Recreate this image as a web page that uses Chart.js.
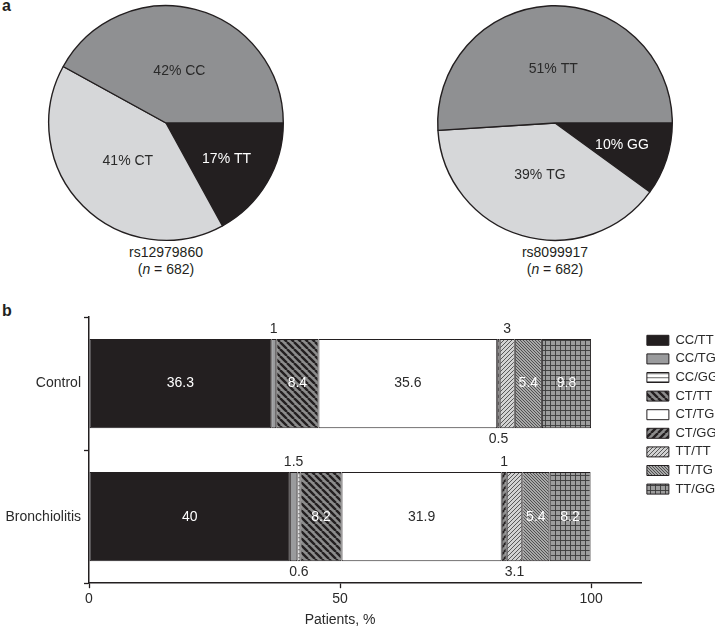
<!DOCTYPE html>
<html>
<head>
<meta charset="utf-8">
<script src="https://cdn.jsdelivr.net/npm/chart.js@4"></script>
<style>
  html, body { margin: 0; padding: 0; background: #fff; }
  body { width: 715px; height: 629px; position: relative; overflow: hidden; font-family: "Liberation Sans", Arial, sans-serif; color: #231f20; }
  .abs { position: absolute; }
  .panel { font-weight: bold; font-size: 16px; }
  .cap { font-size: 14px; text-align: center; width: 200px; line-height: 17px; }
</style>
</head>
<body>
<div class="abs panel" style="left:2px; top:-3px;">a</div>
<div class="abs panel" style="left:2px; top:302px;">b</div>
<div class="abs" style="left:46px; top:3px; width:240px; height:240px;"><canvas id="pie1" width="240" height="240"></canvas></div>
<div class="abs" style="left:435px; top:3px; width:240px; height:240px;"><canvas id="pie2" width="240" height="240"></canvas></div>
<div class="abs cap" style="left:66px; top:244px;">rs12979860<br>(<i>n</i> = 682)</div>
<div class="abs cap" style="left:455px; top:244px;">rs8099917<br>(<i>n</i> = 682)</div>
<div class="abs" style="left:0; top:300px; width:730px; height:329px;"><canvas id="bar" width="730" height="329"></canvas></div>
<script>
// ---------- data ----------
const pie1Labels = ['TT', 'CT', 'CC'];
const pie1Values = [17, 41, 42];
const pie1Name = 'rs12979860';
const pie2Labels = ['GG', 'TG', 'TT'];
const pie2Values = [10, 39, 51];
const pie2Name = 'rs8099917';

const groups = ['Control', 'Bronchiolitis'];
const genotypes = ['CC/TT', 'CC/TG', 'CC/GG', 'CT/TT', 'CT/TG', 'CT/GG', 'TT/TT', 'TT/TG', 'TT/GG'];
const ccTT = [36.3, 40];
const ccTG = [1, 1.5];
const ccGG = [0, 0.6];
const ctTT = [8.4, 8.2];
const ctTG = [35.6, 31.9];
const ctGG = [0.5, 1];
const ttTT = [3, 3.1];
const ttTG = [5.4, 5.4];
const ttGG = [9.8, 8.2];
const xTicks = [0, 50, 100];
const xTitle = 'Patients, %';

// where small values are written (outside the bar)
const smallLabelSide = {
  'CC/TG': ['above', 'above'],
  'CC/GG': ['below', 'below'],
  'CT/GG': ['below', 'above'],
  'TT/TT': ['above', 'below']
};

// ---------- styles ----------
const INK = '#231f20';
const MID = '#8f9092';
const LIGHT = '#d6d7d9';
const FONT = '"Liberation Sans", Arial, sans-serif';

const barCtx = document.getElementById('bar').getContext('2d');
function tile(w, h, bg, draw) {
  const c = document.createElement('canvas');
  c.width = w; c.height = h;
  const g = c.getContext('2d');
  g.fillStyle = bg; g.fillRect(0, 0, w, h);
  if (draw) draw(g, w, h);
  return barCtx.createPattern(c, 'repeat');
}
function diag(dir, color, lw) {
  return function (g, s) {
    g.strokeStyle = color; g.lineWidth = lw; g.beginPath();
    for (let k = -1; k <= 1; k++) {
      if (dir === '\\') { g.moveTo(k * s, 0); g.lineTo(k * s + s, s); }
      else { g.moveTo(k * s, s); g.lineTo(k * s + s, 0); }
    }
    g.stroke();
  };
}
const fills = {
  'CC/TT': INK,
  'CC/TG': '#9a9b9d',
  'CC/GG': tile(4, 4, '#ffffff', (g) => { g.fillStyle = '#8a8a8a'; g.fillRect(0, 1, 4, 1.3); }),
  'CT/TT': tile(7, 7, '#8c8c8c', diag('\\', INK, 2.4)),
  'CT/TG': '#ffffff',
  'CT/GG': tile(7, 7, '#8c8c8c', diag('/', INK, 2.4)),
  'TT/TT': tile(4, 4, '#d2d2d2', diag('/', '#4a4a4a', 0.9)),
  'TT/TG': tile(3, 3, '#a8a8a8', diag('\\', '#3a3a3a', 0.8)),
  'TT/GG': tile(5, 5, '#9d9d9d', (g) => { g.fillStyle = '#3a3a3a'; g.fillRect(0, 0, 5, 0.9); g.fillRect(0, 0, 0.9, 5); })
};
const darkText = { 'CT/TG': true };

// ---------- pies ----------
const pieLabelPlugin = {
  id: 'pieLabels',
  afterDatasetsDraw(chart) {
    const ctx = chart.ctx;
    const ds = chart.data.datasets[0];
    const meta = chart.getDatasetMeta(0);
    ctx.save();
    ctx.font = '14px ' + FONT;
    ctx.textAlign = 'center';
    ctx.textBaseline = 'middle';
    meta.data.forEach((arc, i) => {
      const p = arc.getProps(['x', 'y', 'startAngle', 'endAngle', 'outerRadius'], true);
      const v = ds.data[i];
      const mid = (p.startAngle + p.endAngle) / 2;
      const f = v < 20 ? 0.6 : 0.46;
      const x = p.x + Math.cos(mid) * p.outerRadius * f;
      const y = p.y + Math.sin(mid) * p.outerRadius * f;
      ctx.fillStyle = ds.backgroundColor[i] === INK ? '#ffffff' : '#2a2a2a';
      ctx.fillText(v + '% ' + chart.data.labels[i], x, y);
    });
    ctx.restore();
  }
};
function makePie(id, labels, values) {
  new Chart(document.getElementById(id), {
    type: 'pie',
    data: {
      labels: labels,
      datasets: [{
        data: values,
        backgroundColor: [INK, LIGHT, MID],
        borderColor: INK,
        borderWidth: 1.4,
        hoverOffset: 0
      }]
    },
    options: {
      responsive: false,
      animation: false,
      rotation: 90,
      layout: { padding: 2 },
      plugins: { legend: { display: false }, tooltip: { enabled: false } },
      events: []
    },
    plugins: [pieLabelPlugin]
  });
}
makePie('pie1', pie1Labels, pie1Values);
makePie('pie2', pie2Labels, pie2Values);

// ---------- stacked bar ----------
const series = [ccTT, ccTG, ccGG, ctTT, ctTG, ctGG, ttTT, ttTG, ttGG];
const barLabelPlugin = {
  id: 'barLabels',
  afterDatasetsDraw(chart) {
    const ctx = chart.ctx;
    ctx.save();
    ctx.font = '14px ' + FONT;
    ctx.textAlign = 'center';
    ctx.textBaseline = 'middle';
    chart.data.datasets.forEach((ds, di) => {
      const meta = chart.getDatasetMeta(di);
      meta.data.forEach((el, i) => {
        const v = ds.data[i];
        if (!v) return;
        const p = el.getProps(['x', 'y', 'base', 'height'], true);
        const cx = (p.x + p.base) / 2;
        let cy = p.y;
        let color = darkText[ds.label] ? '#2a2a2a' : '#ffffff';
        if (v < 5) {
          const side = (smallLabelSide[ds.label] || [])[i] || 'above';
          cy = side === 'above' ? p.y - p.height / 2 - 10 : p.y + p.height / 2 + 11;
          color = '#2a2a2a';
        }
        ctx.fillStyle = color;
        ctx.fillText(String(v), cx, cy);
      });
    });
    // x-axis title centred on the middle tick
    const xs = chart.scales.x;
    ctx.fillStyle = '#2a2a2a';
    ctx.fillText(xTitle, xs.getPixelForValue(xTicks[1]), chart.height - 9);
    ctx.restore();
  }
};

new Chart(document.getElementById('bar'), {
  type: 'bar',
  data: {
    labels: groups,
    datasets: genotypes.map((g, k) => ({
      label: g,
      data: series[k],
      backgroundColor: fills[g],
      borderColor: INK,
      borderWidth: 1,
      borderSkipped: false,
      barPercentage: 0.67,
      categoryPercentage: 1
    }))
  },
  options: {
    responsive: false,
    animation: false,
    indexAxis: 'y',
    events: [],
    layout: { padding: { top: 17, bottom: 18, left: 0, right: 2 } },
    scales: {
      x: {
        stacked: true,
        min: 0, max: 110,
        afterBuildTicks: (axis) => { axis.ticks = xTicks.map(v => ({ value: v })); },
        grid: { drawOnChartArea: false, drawTicks: true, tickLength: 5, color: INK, tickColor: INK, tickWidth: 1.3 },
        border: { color: INK, width: 1.5 },
        ticks: { color: '#2a2a2a', font: { family: FONT, size: 14 }, padding: 3, maxRotation: 0 }
      },
      y: {
        stacked: true,
        afterFit: (scale) => { scale.width = 89; },
        grid: { drawOnChartArea: false, drawTicks: true, tickLength: 5, color: INK, tickColor: INK, tickWidth: 1.3 },
        border: { color: INK, width: 1.5 },
        ticks: { color: '#2a2a2a', font: { family: FONT, size: 14 }, padding: 3 }
      }
    },
    plugins: {
      tooltip: { enabled: false },
      legend: {
        position: 'right',
        align: 'start',
        title: { display: true, text: '', font: { size: 1 }, padding: { top: 10, bottom: 0 } },
        labels: {
          boxWidth: 22, boxHeight: 10, padding: 5.6,
          color: '#2a2a2a',
          font: { family: FONT, size: 13 }
        }
      }
    }
  },
  plugins: [barLabelPlugin]
});
</script>
</body>
</html>
